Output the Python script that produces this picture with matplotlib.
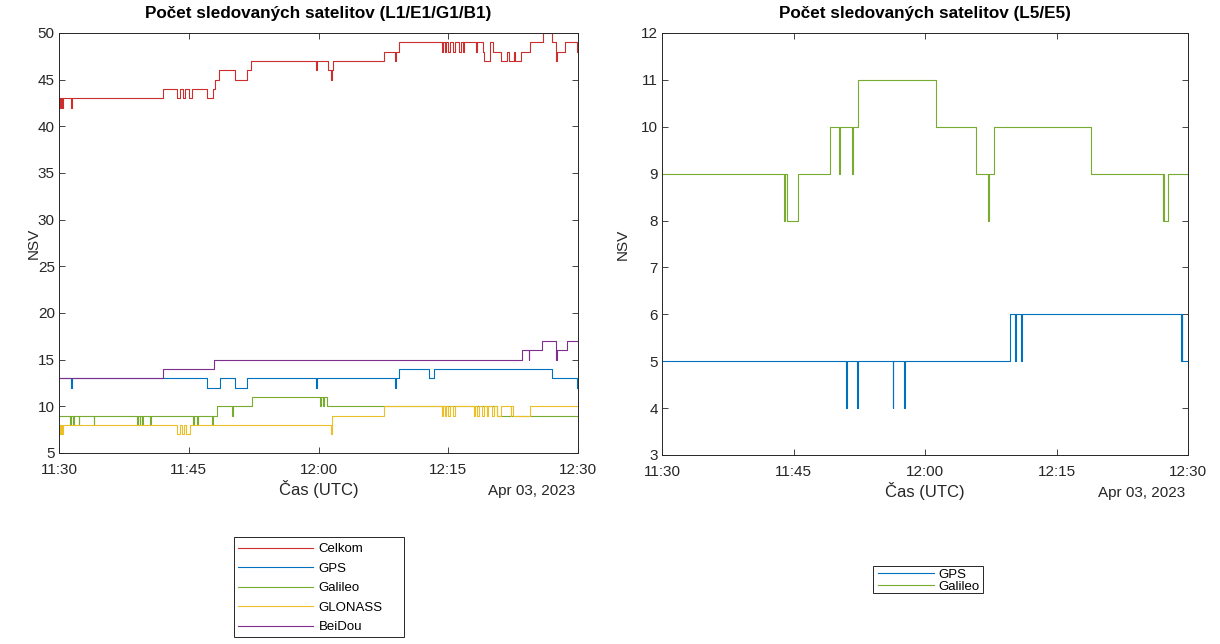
import matplotlib
matplotlib.use("Agg")
import matplotlib.pyplot as plt
from matplotlib.patches import Rectangle

plt.rcParams['font.family'] = ['Liberation Sans', 'DejaVu Sans']

# ---- data: change points (minutes after 11:30 UTC) and values ----
celkom_t = [0, 0.05, 0.12, 0.2, 0.27, 0.35, 0.42, 1.37, 1.45, 12.08, 13.67, 13.98, 14.36, 14.62,
            15.04, 15.34, 17.13, 17.77, 18.04, 18.53, 20.36, 21.76, 22.22, 29.7, 29.8, 31.15,
            31.46, 31.56, 31.65, 37.6, 38.86, 38.95, 39.32, 44.23, 44.38, 44.58, 44.73, 44.92,
            45.19, 45.57, 45.76, 46.23, 46.42, 46.69, 46.84, 48.26, 48.36, 49.03, 49.18, 49.87,
            50.18, 51.1, 51.8, 51.98, 52.55, 52.75, 53.45, 54.5, 55.9, 56.97, 57.5, 57.6, 58.55,
            59.85, 60]
celkom_v = [43, 42, 43, 42, 43, 42, 43, 42, 43, 44, 43, 44, 43, 44,
            43, 44, 43, 44, 45, 46, 45, 46, 47, 46, 47, 46,
            45, 46, 47, 48, 47, 48, 49, 48, 49, 48, 49, 48,
            49, 48, 49, 48, 49, 48, 49, 48, 49, 48, 47, 49,
            48, 47, 48, 47, 48, 47, 48, 49, 50, 49, 47, 48, 49,
            48, 48]

gps1_t = [0, 1.44, 1.52, 17.13, 18.61, 20.36, 21.76, 29.7, 29.8, 38.86, 38.95, 39.25,
          42.77, 43.35, 56.97, 59.85, 60]
gps1_v = [13, 12, 13, 12, 13, 12, 13, 12, 13, 12, 13, 14,
          13, 14, 13, 12, 12]

galileo1_t = [0, 1.25, 1.33, 1.63, 1.71, 2.28, 2.36, 3.99, 4.07, 9.04, 9.12, 9.34, 9.42,
              9.61, 9.69, 10.56, 10.64, 15.5, 15.58, 15.95, 16.03, 17.7, 17.78, 18.27, 19.98,
              20.06, 22.26, 30.23, 30.31, 30.5, 30.58, 31.0, 50.65, 60]
galileo1_v = [9, 8, 9, 8, 9, 8, 9, 8, 9, 8, 9, 8, 9,
              8, 9, 8, 9, 8, 9, 8, 9, 8, 9, 10, 9,
              10, 11, 10, 11, 10, 11, 10, 9, 9]

glonass_t = [0, 0.1, 0.2, 0.3, 0.35, 0.45, 13.6, 14.0, 14.2, 14.5, 14.7, 15.2, 31.45, 31.55,
             37.6, 44.23, 44.38, 44.58, 44.73, 44.92, 45.19, 45.57, 45.76, 47.95, 48.14,
             48.34, 48.53, 48.91, 49.18, 49.49, 49.6, 50.1, 50.25, 50.65, 51.15, 52.2, 52.3,
             52.5, 54.47, 60]
glonass_v = [7, 8, 7, 8, 7, 8, 7, 8, 7, 8, 7, 8, 7, 9,
             10, 9, 10, 9, 10, 9, 10, 9, 10, 9, 10,
             9, 10, 9, 10, 9, 10, 9, 10, 9, 10, 9, 10,
             9, 10, 10]

beidou_t = [0, 12.08, 17.89, 53.5, 54.28, 54.38, 55.8, 57.45, 57.55, 58.7, 60]
beidou_v = [13, 14, 15, 16, 15, 16, 17, 15, 16, 17, 17]

gps5_t = [0, 21.04, 21.12, 22.24, 22.4, 26.32, 26.4, 27.6, 27.68, 39.7, 40.25, 40.33,
          40.95, 41.03, 59.2, 59.28, 59.36, 60]
gps5_v = [5, 4, 5, 4, 5, 4, 5, 4, 5, 6, 5, 6,
          5, 6, 5, 6, 5, 5]

galileo5_t = [0, 13.92, 14.0, 14.24, 15.52, 19.16, 20.2, 20.28, 21.72, 21.8, 22.32, 31.2,
              35.8, 37.2, 37.28, 37.9, 48.9, 57.1, 57.18, 57.28, 57.75, 60]
galileo5_v = [9, 8, 9, 8, 9, 10, 9, 10, 9, 10, 11, 10,
              9, 8, 9, 10, 9, 8, 9, 8, 9, 9]

xticks = [0, 15, 30, 45, 60]
xtick_labels = ['11:30', '11:45', '12:00', '12:15', '12:30']
names1 = ['Celkom', 'GPS', 'Galileo', 'GLONASS', 'BeiDou']
names2 = ['GPS', 'Galileo']

c_red = (0.80, 0.18, 0.18)
c_blue = (0.0, 0.447, 0.741)
c_green = (0.466, 0.674, 0.188)
c_yellow = (0.93, 0.75, 0.15)
c_purple = (0.494, 0.184, 0.556)
axc = (0.15, 0.15, 0.15)

W, H = 1220, 644
fig = plt.figure(figsize=(12.2, 6.44), dpi=100)
ax1 = fig.add_axes([59/W, 1-453/H, 519/W, 420/H])
ax2 = fig.add_axes([662/W, 1-455/H, 526/W, 422/H])

lw = 0.8
l1 = ax1.plot(celkom_t, celkom_v, drawstyle='steps-post', color=c_red, lw=lw, label=names1[0])
l2 = ax1.plot(gps1_t, gps1_v, drawstyle='steps-post', color=c_blue, lw=lw, label=names1[1])
l3 = ax1.plot(galileo1_t, galileo1_v, drawstyle='steps-post', color=c_green, lw=lw, label=names1[2])
l4 = ax1.plot(glonass_t, glonass_v, drawstyle='steps-post', color=c_yellow, lw=lw, label=names1[3])
l5 = ax1.plot(beidou_t, beidou_v, drawstyle='steps-post', color=c_purple, lw=lw, label=names1[4])

r1 = ax2.plot(gps5_t, gps5_v, drawstyle='steps-post', color=c_blue, lw=lw, label=names2[0])
r2 = ax2.plot(galileo5_t, galileo5_v, drawstyle='steps-post', color=c_green, lw=lw, label=names2[1])

for ax in (ax1, ax2):
    ax.set_xlim(0, 60)
    ax.set_xticks(xticks)
    ax.set_xticklabels(xtick_labels)
    ax.tick_params(direction='in', top=True, right=True, length=4, width=0.6,
                   colors=axc, labelsize=11)
    ax.tick_params(axis='x', pad=7)
    ax.tick_params(axis='y', pad=3)
    for s in ax.spines.values():
        s.set_color(axc)
        s.set_linewidth(0.7)
    ax.set_xlabel('Čas (UTC)', fontsize=12, color=axc, labelpad=2)
    ax.text(0.995, -0.09, 'Apr 03, 2023', transform=ax.transAxes, ha='right', va='center',
            fontsize=11, color=axc)

ax1.set_ylabel('NSV', fontsize=11, color=axc, labelpad=-2)
ax2.set_ylabel('NSV', fontsize=11, color=axc, labelpad=8)

ax1.set_ylim(5, 50)
ax1.set_yticks(range(5, 51, 5))
ax2.set_ylim(3, 12)
ax2.set_yticks(range(3, 13, 1))

ax1.set_title('Počet sledovaných satelitov (L1/E1/G1/B1)', fontsize=12.3, fontweight='bold',
              color='black', pad=11)
ax2.set_title('Počet sledovaných satelitov (L5/E5)', fontsize=12.3, fontweight='bold',
              color='black', pad=11)

# legends (frames drawn separately to match the reference box size)
leg1 = fig.legend(handles=l1 + l2 + l3 + l4 + l5, loc='upper left',
                  bbox_to_anchor=(238/W, 1-543/H), fontsize=9.5, frameon=False,
                  handlelength=5.7, labelspacing=0.55, borderpad=0, handletextpad=0.4,
                  borderaxespad=0)
fig.patches.append(Rectangle((234/W, 1-637/H), 170/W, 100/H, transform=fig.transFigure,
                             fill=True, facecolor='white', edgecolor=axc, lw=0.7, zorder=-1))
leg2 = fig.legend(handles=r1 + r2, loc='upper left',
                  bbox_to_anchor=(878/W, 1-568.5/H), fontsize=9.5, frameon=False,
                  handlelength=4.24, labelspacing=0.0, borderpad=0, handletextpad=0.3,
                  borderaxespad=0)
fig.patches.append(Rectangle((873/W, 1-593/H), 110/W, 27/H, transform=fig.transFigure,
                             fill=True, facecolor='white', edgecolor=axc, lw=0.7, zorder=-1))

fig.savefig('out.png', dpi=100)
